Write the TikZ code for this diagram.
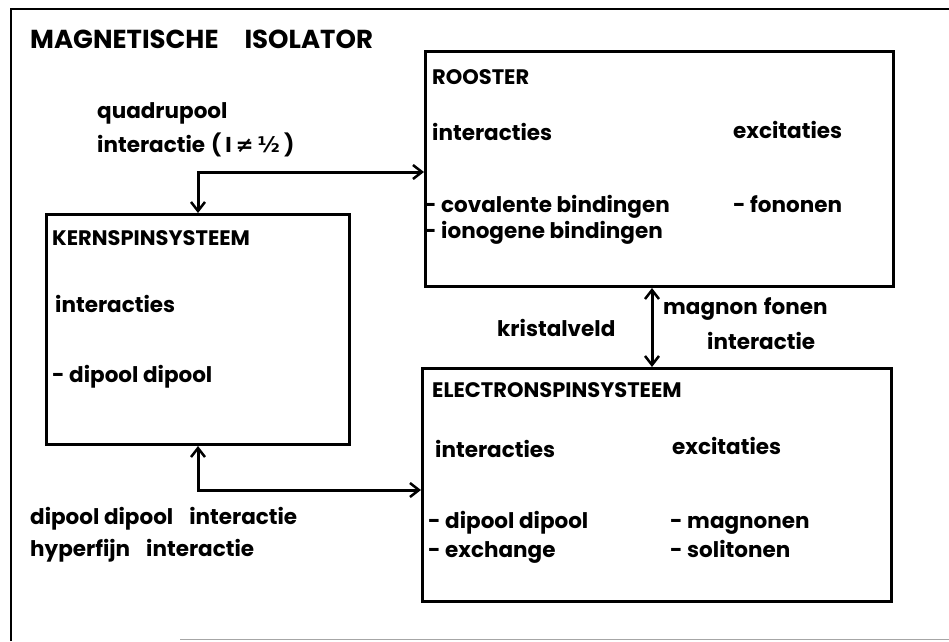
\documentclass[tikz,border=0pt]{standalone}
\usepackage{fontspec}
\setmainfont{Poppins}
\newfontfamily\symfont{DejaVu Sans}
\usetikzlibrary{arrows.meta}

\tikzset{
  frame/.style={line width=2.2pt},
  sysbox/.style={draw, line width=3pt, rectangle, anchor=north west, inner sep=0pt},
  conn/.style={line width=3pt, {Straight Barb[length=9pt,width=14pt,line width=2.5pt]}-{Straight Barb[length=9pt,width=14pt,line width=2.5pt]}},
  bigcap/.style={anchor=base west, inner sep=0pt, font=\fontsize{26}{30}\selectfont\bfseries},
  boxtitle/.style={anchor=base west, inner sep=0pt, font=\fontsize{21}{24}\selectfont\bfseries},
  txt/.style={anchor=base west, inner sep=0pt, font=\fontsize{21.5}{24}\selectfont\bfseries},
}

\begin{document}
\begin{tikzpicture}[x=1pt, y=-1pt]
  \useasboundingbox (0,0) rectangle (949,641);

  % outer frame of the whole system
  \draw[frame] (11,641) -- (11,9) -- (949,9);
  \draw[line width=1.5pt, black!35] (180,639.5) -- (949,639.5);

  \node[bigcap] (title) at (30,48) {MAGNETISCHE\hspace{26pt}ISOLATOR};

  % the three subsystems
  \node[sysbox, minimum width=468pt, minimum height=235pt] (rooster) at (424,50) {};
  \node[sysbox, minimum width=303pt, minimum height=230pt] (kern) at (45,213) {};
  \node[sysbox, minimum width=469pt, minimum height=233pt] (elec) at (421,367) {};

  % lattice
  \node[boxtitle] (roosterT) at (432,84) {ROOSTER};
  \node[txt] (roosterI) at (432,140) {interacties};
  \node[txt] (roosterE) at (733,138) {excitaties};
  \node[txt] (roosterI1) at (424,212) {- covalente bindingen};
  \node[txt] (roosterI2) at (424,238) {- ionogene bindingen};
  \node[txt] (roosterE1) at (733,212) {- fononen};

  % nuclear spin system
  \node[boxtitle] (kernT) at (52,245) {KERNSPINSYSTEEM};
  \node[txt] (kernI) at (55,312) {interacties};
  \node[txt] (kernI1) at (52,382) {- dipool dipool};

  % electron spin system
  \node[boxtitle] (elecT) at (432,397) {ELECTRONSPINSYSTEEM};
  \node[txt] (elecI) at (435,457) {interacties};
  \node[txt] (elecE) at (672,454) {excitaties};
  \node[txt] (elecI1) at (428,528) {- dipool dipool};
  \node[txt] (elecI2) at (428,557) {- exchange};
  \node[txt] (elecE1) at (670,528) {- magnonen};
  \node[txt] (elecE2) at (670,557) {- solitonen};

  % couplings
  \coordinate (qc) at (kern.north |- 0,172);
  \draw[conn] (kern.north) -- (qc) -- (qc -| rooster.west);
  \node[txt] (qlab1) at (97,118) {quadrupool};
  \node[txt] (qlab2) at (97,152) {interactie\hspace{6pt}(\hspace{4pt}I\hspace{4pt}{\symfont\bfseries ≠\hspace{4pt}½}\hspace{4pt})};

  \coordinate (dc) at (kern.south |- 0,490);
  \draw[conn] (kern.south) -- (dc) -- (dc -| elec.west);
  \node[txt] (dlab1) at (30,524) {dipool dipool\hspace{16pt}interactie};
  \node[txt] (dlab2) at (30,556) {hyperfijn\hspace{16pt}interactie};

  \coordinate (mx) at (652,0);
  \draw[conn] (rooster.south -| mx) -- (elec.north -| mx);
  \node[txt] (kris) at (497,336) {kristalveld};
  \node[txt] (mlab1) at (663,314) {magnon\hspace{6pt}fonen};
  \node[txt] (mlab2) at (707,349) {interactie};
\end{tikzpicture}
\end{document}
